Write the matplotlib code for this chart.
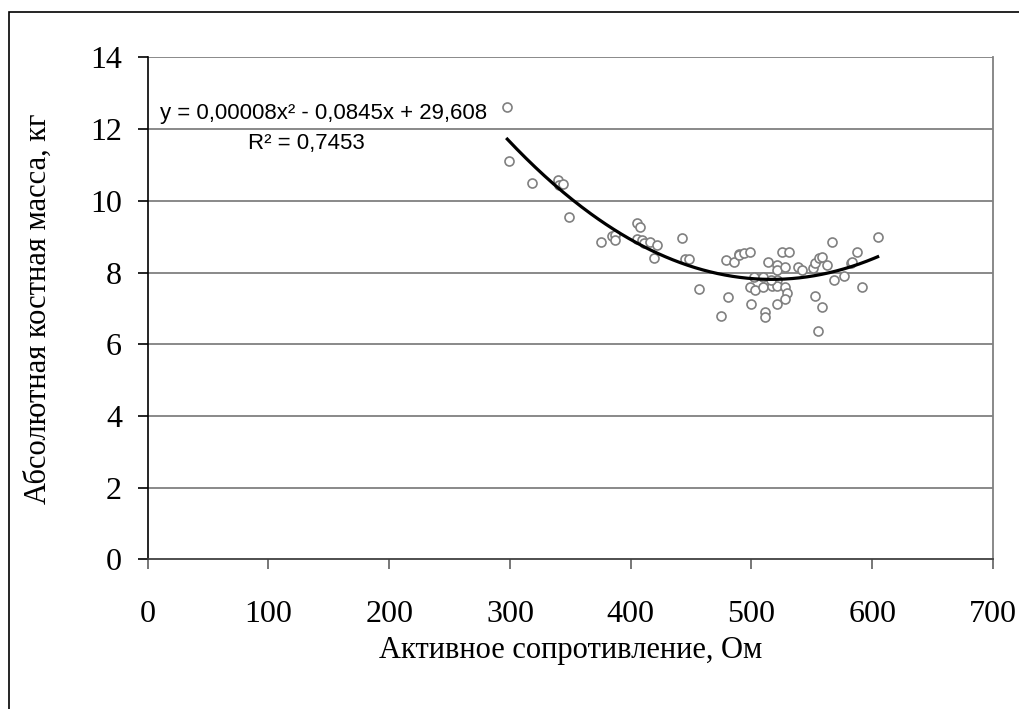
import numpy as np
import matplotlib
matplotlib.use('Agg')
import matplotlib.pyplot as plt
from matplotlib.patches import Rectangle

# active resistance (Ohm) vs absolute bone mass (kg)
resistance = [297.8, 299.2, 318.5, 339.5, 341.0, 344.2, 349.1, 375.4, 384.2, 386.7,
              387.0, 404.9, 407.7, 405.4, 409.6, 411.0, 416.2, 421.7, 419.0, 442.7,
              445.2, 448.2, 456.5, 478.9, 485.8, 489.4, 480.3, 474.8, 489.9, 494.0,
              498.7, 502.3, 509.5, 498.7, 502.9, 509.5, 499.6, 510.9, 510.9, 513.9,
              520.8, 520.8, 525.0, 530.8, 527.7, 517.2, 520.8, 520.8, 527.7, 529.1,
              527.7, 520.8, 538.8, 541.6, 551.2, 552.6, 555.9, 558.6, 562.3, 552.9,
              558.4, 555.3, 566.9, 568.3, 576.6, 582.1, 583.5, 587.6, 591.7, 604.5,
              516.4]
bone_mass = [12.61, 11.11, 10.51, 10.58, 10.45, 10.46, 9.56, 8.86, 9.02, 9.06,
             8.90, 9.37, 9.28, 8.93, 8.91, 8.82, 8.86, 8.77, 8.40, 8.96,
             8.39, 8.39, 7.55, 8.34, 8.30, 8.51, 7.32, 6.80, 8.49, 8.54,
             8.58, 7.87, 7.87, 7.59, 7.50, 7.59, 7.12, 6.89, 6.75, 8.30,
             8.21, 8.07, 8.58, 8.58, 8.16, 7.63, 7.79, 7.63, 7.59, 7.44,
             7.26, 7.12, 8.16, 8.07, 8.12, 8.26, 8.40, 8.44, 8.21, 7.36,
             7.03, 6.38, 8.86, 7.79, 7.91, 8.26, 8.30, 8.58, 7.59, 9.00,
             7.78]

eq_text = 'y = 0,00008x² - 0,0845x + 29,608'
r2_text = 'R² = 0,7453'
x_ticks = [0, 100, 200, 300, 400, 500, 600, 700]
y_ticks = [0, 2, 4, 6, 8, 10, 12, 14]

fig = plt.figure(figsize=(10.2, 7.09), dpi=100)
ax = fig.add_axes([0.1448, 0.2111, 0.8287, 0.7078])

ax.set_xlim(0, 700)
ax.set_ylim(0, 14)
ax.set_xticks(x_ticks)
ax.set_yticks(y_ticks)

for y in y_ticks[1:]:
    ax.axhline(y, color='#808080', lw=1.3, zorder=1)

ax.scatter(resistance, bone_mass, s=42, facecolors='white', edgecolors='#808080',
           linewidths=1.2, zorder=3)

# second order trend line
coef = np.polyfit(resistance, bone_mass, 2)
xs = np.linspace(min(resistance), max(resistance), 200)
ax.plot(xs, np.polyval(coef, xs), color='black', lw=2.3, zorder=4)

ax.spines['top'].set_visible(False)
ax.spines['right'].set_color('#808080')
ax.spines['right'].set_linewidth(1.3)
ax.spines['left'].set_color('black')
ax.spines['left'].set_linewidth(1.2)
ax.spines['bottom'].set_color('#404040')
ax.spines['bottom'].set_linewidth(1.3)

ax.tick_params(axis='y', direction='out', length=7.5, width=1.2, color='black', pad=11)
ax.tick_params(axis='x', direction='out', length=7.5, width=1.2, color='#606060', pad=22)
for lab in ax.get_xticklabels() + ax.get_yticklabels():
    lab.set_family('Liberation Serif')
    lab.set_fontsize(23)

ax.set_xlabel('Активное сопротивление, Ом', family='Liberation Serif', fontsize=22,
              labelpad=5)
ax.set_ylabel('Абсолютная костная масса, кг', family='Liberation Serif', fontsize=22,
              labelpad=27)

fig.text(160 / 1020, 1 - 113 / 709, eq_text, family='Liberation Sans', fontsize=16,
         va='center', ha='left')
fig.text(248 / 1020, 1 - 143 / 709, r2_text, family='Liberation Sans', fontsize=16,
         va='center', ha='left')

# outer frame: only left and top edges fall inside the picture
fig.patches.append(Rectangle((9.5 / 1020, -0.05), 1.1, 1.05 - 12 / 709,
                             transform=fig.transFigure, fill=False, ec='black', lw=1.2))

fig.savefig('out.png', dpi=100)
